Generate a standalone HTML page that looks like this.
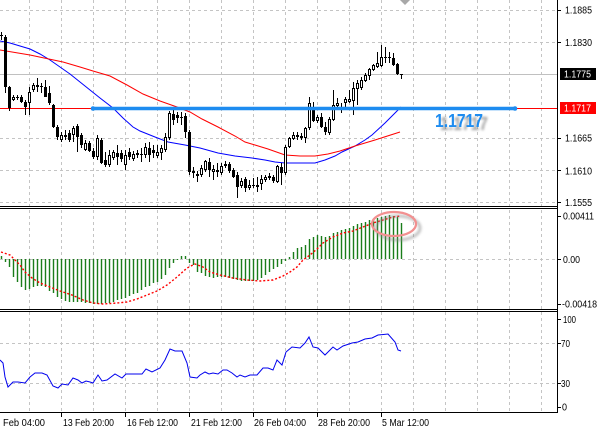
<!DOCTYPE html>
<html><head><meta charset="utf-8"><style>
html,body{margin:0;padding:0;background:#fff;}
svg{display:block;}
text{font-family:"Liberation Sans",Arial,sans-serif;}
</style></head><body>
<svg width="600" height="433" viewBox="0 0 600 433" xmlns="http://www.w3.org/2000/svg">
<defs>
<filter id="bl" x="-10%" y="-200%" width="120%" height="500%"><feGaussianBlur stdDeviation="1.4"/></filter>
<filter id="bt" x="-30%" y="-60%" width="160%" height="220%"><feGaussianBlur stdDeviation="1.3"/></filter>
</defs>
<rect width="600" height="433" fill="#fff"/>

<!-- grid -->
<g stroke="#c4c4c4" stroke-width="1" stroke-dasharray="3,3" fill="none" shape-rendering="crispEdges">
<path d="M29.5 0V412M61.5 0V412M93.5 0V412M125.5 0V412M157.5 0V412M189.5 0V412M221.5 0V412M253.5 0V412M285.5 0V412M317.5 0V412M349.5 0V412M381.5 0V412M413.5 0V412M445.5 0V412M477.5 0V412M509.5 0V412M541.5 0V412"/>
<path d="M0 10.5H557M0 42.5H557M0 138.5H557M0 170.5H557M0 202.5H557M0 259.5H557M0 343.5H557M0 383.5H557"/>
</g>

<!-- price lines -->
<path d="M0 74.5H557" stroke="#c0c0c0" stroke-width="1" shape-rendering="crispEdges"/>
<path d="M0 108.5H557" stroke="#ff0000" stroke-width="1" shape-rendering="crispEdges"/>

<!-- moving averages -->
<path d="M0 41L10 43L20 46L30 49L40 54L50 60L60 67L70 74L80 82L90 90L100 98L113 108L123 118L133 127L140 131L145 133L155 137L168 142L185 145L200 148L218 153L235 156L252 158L265 160L275 162L285 163L300 163L315 163L325 160L335 156L342 152L355 146L365 140L372 135L385 123L398 110L401 107" fill="none" stroke="#0000ff" stroke-width="1"/>
<path d="M0 50L30 55L63 62L80 67L93 71L110 76L127 85L143 94L160 101L177 107L190 112L202 119L218 127L235 136L245 142L255 145L268 149L285 155L300 156L315 156L328 154L340 151L355 146L375 140L400 132" fill="none" stroke="#ff0000" stroke-width="1"/>

<!-- wicks -->
<path shape-rendering="crispEdges" stroke="#000" stroke-width="1" fill="none" d="M1.5 32V40M5.5 35V93M9.5 86V111M13.5 95V101M17.5 95V100M21.5 95V103M25.5 100V115M29.5 87V115M33.5 83V92M37.5 78V92M41.5 83V93M45.5 80V97M49.5 86V105M53.5 104V128M57.5 125V140M61.5 132V142M65.5 130V140M69.5 130V142M73.5 126V142M77.5 124V152M81.5 133V148M85.5 140V151M89.5 141V152M93.5 148V159M97.5 135V160M101.5 138V164M105.5 152V167M109.5 150V167M113.5 150V160M117.5 145V165M121.5 150V162M125.5 150V170M129.5 148V160M133.5 151V161M137.5 150V158M141.5 148V162M145.5 143V158M149.5 142V162M153.5 145V158M157.5 145V158M161.5 145V160M165.5 133V152M169.5 111V140M173.5 110V125M177.5 112V123M181.5 112V125M185.5 113V138M189.5 130V175M193.5 167V178M197.5 171V182M201.5 165V177M205.5 160V172M209.5 158V177M213.5 165V180M217.5 163V177M221.5 163V175M225.5 161V168M229.5 162V173M233.5 168V178M237.5 172V198M241.5 178V188M245.5 177V192M249.5 180V190M253.5 178V188M257.5 177V192M261.5 175V190M265.5 175V182M269.5 173V180M273.5 175V183M277.5 165V183M281.5 163V185M285.5 145V175M289.5 137V148M293.5 132V140M297.5 132V140M301.5 133V140M305.5 127V143M309.5 97V130M313.5 102V122M317.5 115V123M321.5 113V128M325.5 122V135M329.5 117V135M333.5 90V121M337.5 98V110M341.5 103V113M345.5 97V107M349.5 90V103M353.5 82V115M357.5 80V105M361.5 77V90M365.5 73V82M369.5 68V80M373.5 64V71M377.5 52V68M381.5 45V67M385.5 47V63M389.5 52V63M393.5 53V66M397.5 63V75M401.5 74V79"/>

<!-- bear bodies -->
<path shape-rendering="crispEdges" fill="#000" d="M0 35h3V36h-3zM4 37h3V87h-3zM8 87h3V108h-3zM16 97h3V98h-3zM20 97h3V102h-3zM24 102h3V107h-3zM36 85h3V87h-3zM40 86h3V87h-3zM44 87h3V97h-3zM48 93h3V103h-3zM52 105h3V127h-3zM56 127h3V137h-3zM64 135h3V137h-3zM68 133h3V140h-3zM76 126h3V137h-3zM80 135h3V145h-3zM88 143h3V151h-3zM92 151h3V157h-3zM100 140h3V163h-3zM104 160h3V165h-3zM116 153h3V157h-3zM120 153h3V159h-3zM128 152h3V157h-3zM136 153h3V155h-3zM140 154h3V155h-3zM148 148h3V155h-3zM152 150h3V153h-3zM172 114h3V120h-3zM176 115h3V118h-3zM180 117h3V118h-3zM184 116h3V132h-3zM188 132h3V172h-3zM192 171h3V173h-3zM196 174h3V176h-3zM208 162h3V170h-3zM216 170h3V172h-3zM228 164h3V171h-3zM232 170h3V177h-3zM236 175h3V187h-3zM244 179h3V188h-3zM252 185h3V186h-3zM256 185h3V187h-3zM268 176h3V178h-3zM272 177h3V181h-3zM280 167h3V173h-3zM296 135h3V137h-3zM300 136h3V138h-3zM312 107h3V121h-3zM320 117h3V127h-3zM324 127h3V132h-3zM340 107h3V110h-3zM384 57h3V58h-3zM388 57h3V58h-3zM392 58h3V65h-3zM396 64h3V74h-3zM400 74h3V75h-3z"/>

<!-- bull bodies -->
<path shape-rendering="crispEdges" fill="#fff" stroke="#000" stroke-width="1" d="M12.5 97.5h2V99.5h-2zM28.5 92.5h2V102.5h-2zM32.5 85.5h2V89.5h-2zM60.5 135.5h2V139.5h-2zM72.5 128.5h2V134.5h-2zM84.5 143.5h2V149.5h-2zM96.5 138.5h2V156.5h-2zM108.5 155.5h2V164.5h-2zM112.5 152.5h2V157.5h-2zM124.5 155.5h2V164.5h-2zM132.5 154.5h2V158.5h-2zM144.5 147.5h2V154.5h-2zM156.5 152.5h2V155.5h-2zM160.5 148.5h2V152.5h-2zM164.5 137.5h2V149.5h-2zM168.5 113.5h2V137.5h-2zM200.5 168.5h2V174.5h-2zM204.5 161.5h2V169.5h-2zM212.5 169.5h2V171.5h-2zM220.5 166.5h2V172.5h-2zM224.5 164.5h2V165.5h-2zM240.5 181.5h2V185.5h-2zM248.5 185.5h2V187.5h-2zM260.5 179.5h2V183.5h-2zM264.5 177.5h2V179.5h-2zM276.5 166.5h2V181.5h-2zM284.5 147.5h2V172.5h-2zM288.5 138.5h2V146.5h-2zM292.5 135.5h2V138.5h-2zM304.5 128.5h2V137.5h-2zM308.5 103.5h2V127.5h-2zM316.5 117.5h2V120.5h-2zM328.5 119.5h2V132.5h-2zM332.5 105.5h2V119.5h-2zM336.5 103.5h2V105.5h-2zM344.5 99.5h2V102.5h-2zM348.5 99.5h2V101.5h-2zM352.5 88.5h2V100.5h-2zM356.5 83.5h2V88.5h-2zM360.5 80.5h2V87.5h-2zM364.5 75.5h2V80.5h-2zM368.5 69.5h2V75.5h-2zM372.5 65.5h2V69.5h-2zM376.5 63.5h2V66.5h-2zM380.5 57.5h2V65.5h-2z"/>

<!-- trendline with shadow -->
<path d="M97 113.5H522" stroke="#8a8a8a" stroke-width="4" opacity="0.75" filter="url(#bl)"/>
<path d="M93 108.5H515" stroke="#1e8cf0" stroke-width="3.6"/>
<circle cx="93" cy="108.5" r="2.3" fill="#1e8cf0"/>
<circle cx="515" cy="108.5" r="2.3" fill="#1e8cf0"/>
<text x="440" y="130" font-size="18" font-weight="bold" fill="#777" opacity="0.7" textLength="48" lengthAdjust="spacingAndGlyphs" filter="url(#bt)">1.1717</text>
<text x="435" y="127" font-size="18" font-weight="bold" fill="#1e8cf0" textLength="48" lengthAdjust="spacingAndGlyphs">1.1717</text>

<!-- top marker -->
<polygon points="400,0 410,0 405,5" fill="#a8a8a8"/>

<!-- MACD histogram -->
<path stroke="#1a7d1a" stroke-width="1.4" fill="none" d="M1.5 259V256M5.5 259V262M9.5 259V267M13.5 259V277M17.5 259V282M21.5 259V287M25.5 259V290M29.5 259V289M33.5 259V287M37.5 259V286M41.5 259V286M45.5 259V287M49.5 259V291M53.5 259V293M57.5 259V297M61.5 259V299M65.5 259V301M69.5 259V302M73.5 259V302M77.5 259V302M81.5 259V302M85.5 259V303M89.5 259V303M93.5 259V304M97.5 259V304M101.5 259V304M105.5 259V303M109.5 259V303M113.5 259V302M117.5 259V300M121.5 259V299M125.5 259V298M129.5 259V296M133.5 259V294M137.5 259V293M141.5 259V290M145.5 259V287M149.5 259V286M153.5 259V283M157.5 259V282M161.5 259V279M165.5 259V275M169.5 259V268M173.5 259V263M177.5 259V260M181.5 259V256M185.5 259V256M189.5 259V263M193.5 259V265M197.5 259V272M201.5 259V273M205.5 259V276M209.5 259V277M213.5 259V278M217.5 259V277M221.5 259V277M225.5 259V277M229.5 259V278M233.5 259V279M237.5 259V280M241.5 259V281M245.5 259V281M249.5 259V281M253.5 259V281M257.5 259V280M261.5 259V278M265.5 259V275M269.5 259V272M273.5 259V269M277.5 259V267M281.5 259V264M285.5 259V261M289.5 259V257M293.5 259V252M297.5 259V248M301.5 259V247M305.5 259V245M309.5 259V239M313.5 259V237M317.5 259V235M321.5 259V236M325.5 259V237M329.5 259V236M333.5 259V233M337.5 259V232M341.5 259V230M345.5 259V229M349.5 259V228M353.5 259V226M357.5 259V224M361.5 259V223M365.5 259V222M369.5 259V220M373.5 259V219M377.5 259V218M381.5 259V217M385.5 259V216M389.5 259V215M393.5 259V216M397.5 259V217M401.5 259V223"/>
<!-- MACD signal -->
<path d="M1 252L10 255L15 260L20 265L25 272L32 278L40 283L50 287L60 291L72 295L83 300L93 303L103 304L117 303L127 302L137 299L147 295L157 291L167 285L177 277L187 268L195 264L203 267L210 272L220 275L233 278L247 280L260 281L273 280L283 276L290 272L297 267L303 260L310 255L317 249L323 243L333 237L343 233L353 231L363 227L373 223L383 220L393 217L401 216" fill="none" stroke="#ff0000" stroke-width="1.4" stroke-dasharray="2,2"/>

<!-- ellipse highlight -->
<ellipse cx="398" cy="228" rx="22" ry="12" fill="none" stroke="#888" stroke-width="3" opacity="0.5" filter="url(#bt)"/>
<ellipse cx="394" cy="224" rx="22" ry="12" fill="none" stroke="#f29090" stroke-width="2.2"/>

<!-- RSI -->
<path d="M0 360L3 363L5 377L8 387L13 382L18 382L25 383L30 377L35 373L42 373L47 375L53 386L58 388L62 384L68 385L73 378L78 380L82 383L86 381L90 382L93 383L98 375L102 381L107 380L115 374L122 378L126 374L142 374L146 369L152 372L160 368L165 360L170 349L175 351L182 351L187 363L190 377L197 378L200 375L205 372L209 374L213 373L218 374L223 370L227 370L232 373L237 377L240 375L245 377L250 375L257 375L263 368L268 368L273 370L277 360L282 365L286 352L292 347L300 348L305 343L309 337L313 347L318 348L325 355L333 347L337 350L343 346L352 343L358 342L365 339L372 338L378 335L388 334L395 342L398 350L401 351" fill="none" stroke="#0000ee" stroke-width="1"/>

<!-- panel borders -->
<g stroke="#000" stroke-width="1" shape-rendering="crispEdges" fill="none">
<path d="M0 206.5H558M0 208.5H558M0 309.5H558M0 311.5H558M0 412.5H558"/>
<path d="M557.5 0V413"/>
<path d="M557 10.5h4M557 42.5h4M557 138.5h4M557 170.5h4M557 202.5h4M557 216.5h4M557 259.5h4M557 304.5h4M557 319.5h4M557 343.5h4M557 383.5h4M557 407.5h4"/>
<path d="M61.5 412V417M125.5 412V417M189.5 412V417M253.5 412V417M317.5 412V417M381.5 412V417"/>
</g>

<!-- price axis labels -->
<g font-size="10" fill="#000">
<text x="565" y="13.5" textLength="27" lengthAdjust="spacingAndGlyphs">1.1885</text>
<text x="565" y="46" textLength="27" lengthAdjust="spacingAndGlyphs">1.1830</text>
<text x="565" y="141.5" textLength="27" lengthAdjust="spacingAndGlyphs">1.1665</text>
<text x="565" y="174.5" textLength="27" lengthAdjust="spacingAndGlyphs">1.1610</text>
<text x="565" y="206" textLength="27" lengthAdjust="spacingAndGlyphs">1.1555</text>
<text x="563" y="219.5" textLength="31" lengthAdjust="spacingAndGlyphs">0.00411</text>
<text x="563" y="263" textLength="17" lengthAdjust="spacingAndGlyphs">0.00</text>
<text x="562" y="307.5" textLength="35" lengthAdjust="spacingAndGlyphs">-0.00418</text>
<text x="563" y="323" textLength="13" lengthAdjust="spacingAndGlyphs">100</text>
<text x="561" y="347" textLength="9" lengthAdjust="spacingAndGlyphs">70</text>
<text x="561" y="387" textLength="9" lengthAdjust="spacingAndGlyphs">30</text>
<text x="562" y="410.5" textLength="5" lengthAdjust="spacingAndGlyphs">0</text>
</g>
<rect x="560" y="68" width="36" height="12" fill="#000"/>
<text x="564" y="77.5" font-size="10" fill="#fff" textLength="27" lengthAdjust="spacingAndGlyphs">1.1775</text>
<rect x="560" y="102" width="36" height="12" fill="#ff0000"/>
<text x="564" y="111.5" font-size="10" fill="#fff" textLength="27" lengthAdjust="spacingAndGlyphs">1.1717</text>

<!-- time labels -->
<g font-size="10" fill="#000">
<text x="3" y="426" textLength="42" lengthAdjust="spacingAndGlyphs">Feb 04:00</text>
<text x="63" y="426" textLength="51" lengthAdjust="spacingAndGlyphs">13 Feb 20:00</text>
<text x="127" y="426" textLength="51" lengthAdjust="spacingAndGlyphs">16 Feb 12:00</text>
<text x="191" y="426" textLength="51" lengthAdjust="spacingAndGlyphs">21 Feb 12:00</text>
<text x="254" y="426" textLength="52" lengthAdjust="spacingAndGlyphs">26 Feb 04:00</text>
<text x="318" y="426" textLength="52" lengthAdjust="spacingAndGlyphs">28 Feb 20:00</text>
<text x="382" y="426" textLength="47" lengthAdjust="spacingAndGlyphs">5 Mar 12:00</text>
</g>
</svg>
</body></html>
